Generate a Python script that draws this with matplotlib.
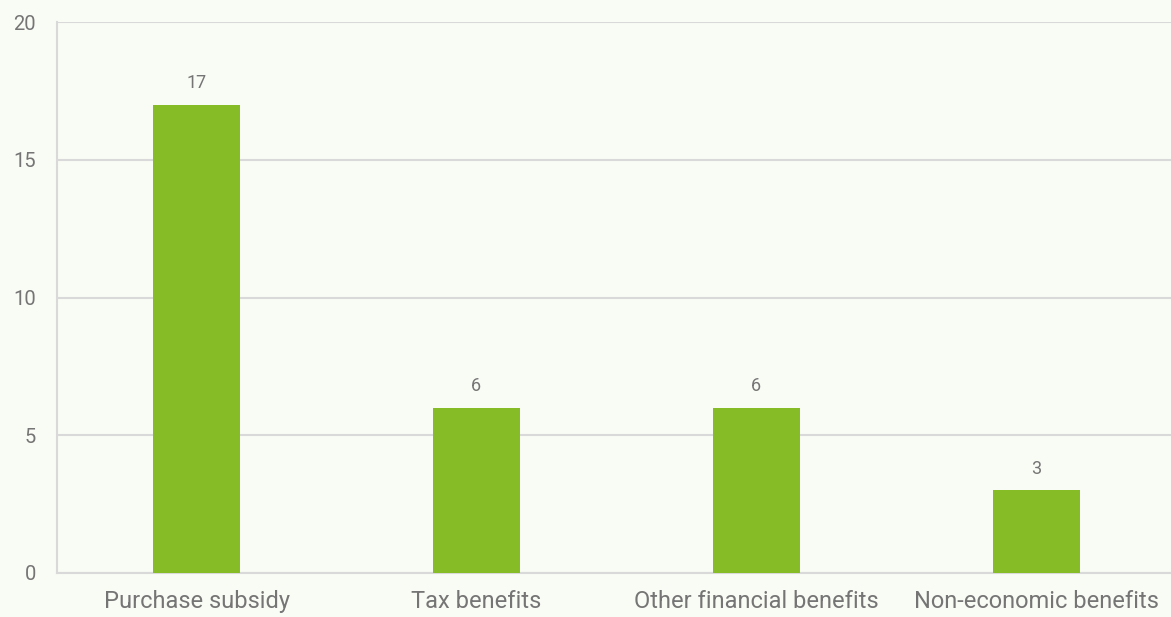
import matplotlib
matplotlib.use("Agg")
import matplotlib.pyplot as plt

categories = ["Purchase subsidy", "Tax benefits", "Other financial benefits", "Non-economic benefits"]
values = [17, 6, 6, 3]
y_ticks = [0, 5, 10, 15, 20]

bg = "#f9fbf5"
bar_color = "#86bc25"
grid_color = "#d9d9d9"
text_color = "#757575"

plt.rcParams["font.family"] = ["Roboto", "DejaVu Sans"]

fig = plt.figure(figsize=(11.71, 6.17), dpi=100, facecolor=bg)
ax = fig.add_axes([56.6 / 1171, 44 / 617, (1176 - 56.6) / 1171, 551 / 617])
ax.set_facecolor(bg)

x = range(len(categories))
bars = ax.bar(x, values, width=0.311, color=bar_color, zorder=3)

ax.set_xlim(-0.5, len(categories) - 0.5)
ax.set_ylim(0, 20)
ax.set_yticks(y_ticks)
ax.set_yticklabels([str(t) for t in y_ticks])
ax.set_xticks(list(x))
ax.set_xticklabels(categories)

ax.yaxis.grid(True, color=grid_color, linewidth=1.5, zorder=0)
ax.xaxis.grid(False)
for side in ["top", "right"]:
    ax.spines[side].set_visible(False)
for side in ["left", "bottom"]:
    ax.spines[side].set_color(grid_color)
    ax.spines[side].set_linewidth(1.5)

ax.tick_params(axis="y", length=0, pad=15, labelsize=14.5, labelcolor=text_color)
ax.tick_params(axis="x", length=0, pad=12, labelsize=17, labelcolor=text_color)

for rect, v in zip(bars, values):
    ax.annotate(str(v), (rect.get_x() + rect.get_width() / 2, v),
                xytext=(0, 12), textcoords="offset points",
                ha="center", va="baseline", fontsize=13, color=text_color)

fig.savefig("out.png", dpi=100, facecolor=bg)
